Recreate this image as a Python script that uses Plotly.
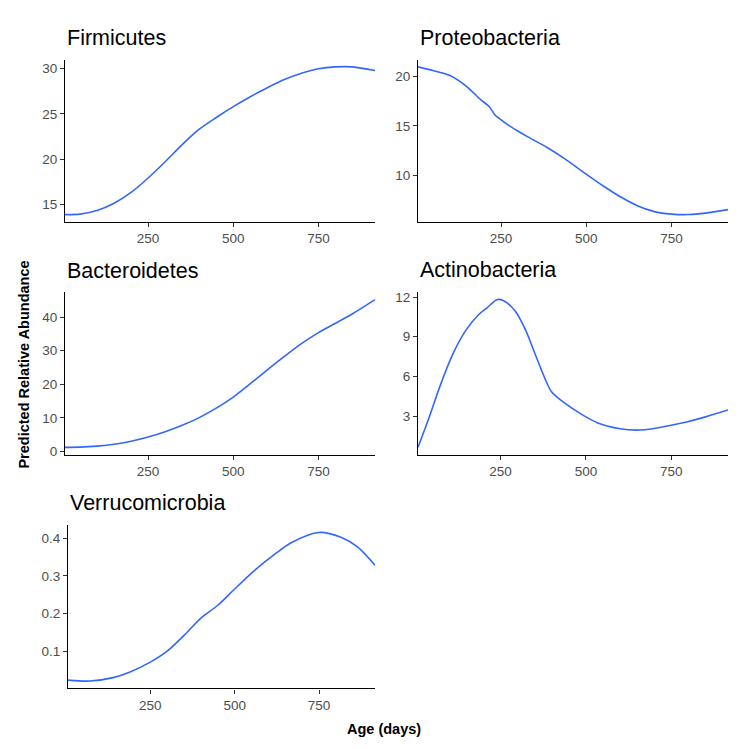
import plotly.graph_objects as go

# page body has an 8px default margin: figure is sized/offset to compensate
OFF = 8
W, H = 746 - 2 * OFF, 749 - 2 * OFF

phyla = ["Firmicutes", "Proteobacteria", "Bacteroidetes", "Actinobacteria", "Verrucomicrobia"]

firm_age = [6, 50, 100, 150, 200, 250, 300, 350, 400, 450, 500, 550, 600, 650, 700, 750, 800, 850, 916]
firm_val = [13.85, 13.9, 14.3, 15.1, 16.3, 17.9, 19.7, 21.6, 23.3, 24.6, 25.8, 26.9, 27.9, 28.8, 29.5, 30.0, 30.2, 30.2, 29.8]

prot_age = [6, 50, 100, 150, 190, 215, 232, 250, 270, 300, 330, 385, 435, 500, 550, 600, 650, 700, 750, 800, 850, 916]
prot_val = [20.97, 20.6, 20.1, 18.95, 17.65, 16.95, 16.1, 15.6, 15.1, 14.45, 13.85, 12.8, 11.7, 10.1, 8.9, 7.8, 6.9, 6.3, 6.05, 6.0, 6.15, 6.5]

bact_age = [6, 50, 100, 150, 200, 250, 300, 350, 400, 450, 500, 550, 600, 650, 700, 750, 800, 850, 916]
bact_val = [1.25, 1.3, 1.6, 2.15, 3.05, 4.3, 5.9, 7.8, 10.1, 12.9, 16.2, 20.2, 24.3, 28.3, 32.1, 35.4, 38.2, 41.0, 45.2]

acti_age = [8, 40, 70, 108, 147, 186, 210, 239, 259, 293, 322, 351, 380, 399, 438, 486, 535, 600, 650, 700, 750, 800, 850, 916]
acti_val = [0.65, 2.86, 5.1, 7.58, 9.44, 10.68, 11.18, 11.8, 11.72, 10.93, 9.57, 7.7, 5.84, 4.85, 3.98, 3.16, 2.49, 2.05, 1.95, 2.07, 2.32, 2.6, 2.95, 3.47]

verr_age = [6, 70, 140, 190, 250, 300, 350, 400, 450, 500, 560, 620, 670, 750, 815, 865, 916]
verr_val = [0.0235, 0.021, 0.030, 0.045, 0.071, 0.100, 0.142, 0.188, 0.222, 0.265, 0.315, 0.358, 0.389, 0.415, 0.402, 0.376, 0.328]

x_ticks = [250, 500, 750]
y_ticks = [
    [15, 20, 25, 30],
    [10, 15, 20],
    [0, 10, 20, 30, 40],
    [3, 6, 9, 12],
    [0.1, 0.2, 0.3, 0.4],
]
x_title = "Age (days)"
y_title = "Predicted Relative Abundance"

series = [
    (firm_age, firm_val),
    (prot_age, prot_val),
    (bact_age, bact_val),
    (acti_age, acti_val),
    (verr_age, verr_val),
]

# panel boxes in window pixels: (left, right, top, bottom)
boxes = [
    (65, 375, 58, 222),
    (418, 728, 58, 222),
    (65, 375, 293, 457),
    (418, 728, 293, 457),
    (68, 375, 528, 693),
]
title_y = [36, 36, 272, 271, 506]

FONT = "Arial, Liberation Sans, sans-serif"
LINE = "#3366FF"


def px(x):
    return (x - OFF) / W


def py(y):
    return 1 - (y - OFF) / H


fig = go.Figure()
layout = dict(
    width=W, height=H,
    margin=dict(l=0, r=0, t=0, b=0),
    paper_bgcolor="white", plot_bgcolor="white",
    showlegend=False,
    font=dict(family=FONT),
    annotations=[],
)

for i, ((ax, ay), (l, r, t, b)) in enumerate(zip(series, boxes)):
    n = "" if i == 0 else str(i + 1)
    xa, ya = "x" + n, "y" + n
    fig.add_trace(go.Scatter(x=ax, y=ay, mode="lines", xaxis=xa, yaxis=ya,
                             line=dict(color=LINE, width=1.6, shape="spline", smoothing=0.8),
                             hoverinfo="skip"))
    lo, hi = min(ay), max(ay)
    pad = (hi - lo) * 0.05
    common = dict(showline=True, linecolor="black", linewidth=1.2, ticks="outside",
                  ticklen=4, tickwidth=1, tickcolor="#333333", showgrid=False, zeroline=False,
                  tickfont=dict(family=FONT, size=13.5, color="#4D4D4D"))
    layout["xaxis" + n] = dict(domain=[px(l), px(r)], anchor=ya, range=[min(ax), max(ax)],
                               tickvals=x_ticks, **common)
    layout["yaxis" + n] = dict(domain=[py(b), py(t)], anchor=xa, range=[lo - pad, hi + pad],
                               tickvals=y_ticks[i], **common)
    layout["annotations"].append(dict(
        text=phyla[i], x=px(l), y=py(title_y[i]), xref="paper", yref="paper",
        xanchor="left", yanchor="middle", showarrow=False,
        font=dict(family=FONT, size=21.5, color="black")))

layout["annotations"].append(dict(
    text="<b>" + x_title + "</b>", x=px(384), y=py(734), xref="paper", yref="paper",
    xanchor="center", yanchor="middle", showarrow=False,
    font=dict(family=FONT, size=14.5, color="black")))
layout["annotations"].append(dict(
    text="<b>" + y_title + "</b>", x=px(24), y=py(366), xref="paper", yref="paper",
    xanchor="center", yanchor="middle", showarrow=False, textangle=-90,
    font=dict(family=FONT, size=14.5, color="black")))

fig.update_layout(**layout)
fig.write_html("out.html")
